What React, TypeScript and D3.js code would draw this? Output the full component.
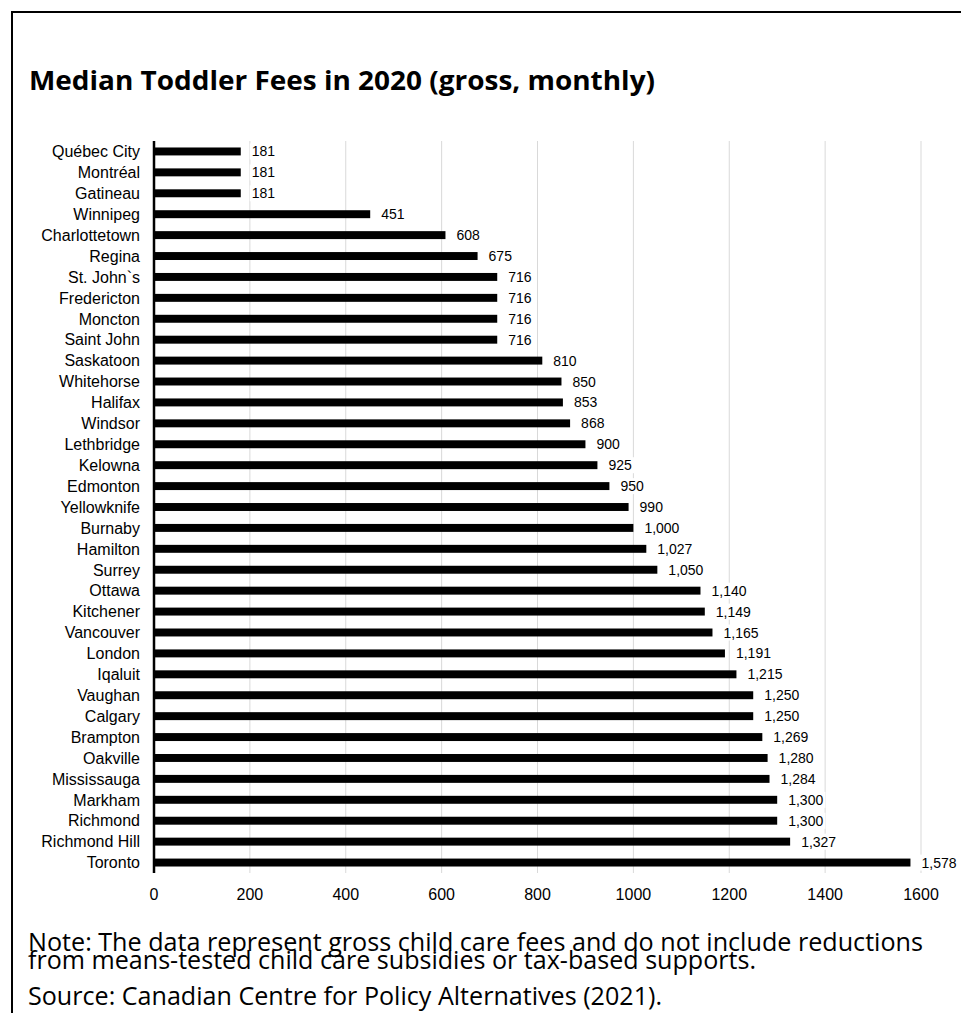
import React, { useEffect, useRef } from "react";
import * as d3 from "d3";

const cities = [
  "Québec City", "Montréal", "Gatineau", "Winnipeg", "Charlottetown", "Regina",
  "St. John`s", "Fredericton", "Moncton", "Saint John", "Saskatoon", "Whitehorse",
  "Halifax", "Windsor", "Lethbridge", "Kelowna", "Edmonton", "Yellowknife",
  "Burnaby", "Hamilton", "Surrey", "Ottawa", "Kitchener", "Vancouver", "London",
  "Iqaluit", "Vaughan", "Calgary", "Brampton", "Oakville", "Mississauga",
  "Markham", "Richmond", "Richmond Hill", "Toronto",
];
const fees = [
  181, 181, 181, 451, 608, 675, 716, 716, 716, 716, 810, 850, 853, 868, 900,
  925, 950, 990, 1000, 1027, 1050, 1140, 1149, 1165, 1191, 1215, 1250, 1250,
  1269, 1280, 1284, 1300, 1300, 1327, 1578,
];
const xTicks = [0, 200, 400, 600, 800, 1000, 1200, 1400, 1600];
const titleText = "Median Toddler Fees in 2020 (gross, monthly)";
const noteLines = [
  "Note: The data represent gross child care fees and do not include reductions",
  "from means-tested child care subsidies or tax-based supports.",
  "Source: Canadian Centre for Policy Alternatives (2021).",
];

const W = 961;
const H = 1013;
const ARIAL = "'Liberation Sans', Arial, sans-serif";
const SEGOE = "'Open Sans', 'Noto Sans', sans-serif";

export default function App() {
  const ref = useRef<SVGSVGElement | null>(null);

  useEffect(() => {
    const svg = d3.select(ref.current);
    svg.selectAll("*").remove();

    svg.append("rect").attr("width", W).attr("height", H).attr("fill", "#fff");

    // frame (top and left edges)
    svg.append("line").attr("x1", 12).attr("x2", W).attr("y1", 12).attr("y2", 12)
      .attr("stroke", "#000").attr("stroke-width", 2);
    svg.append("line").attr("x1", 12).attr("x2", 12).attr("y1", 11).attr("y2", H)
      .attr("stroke", "#000").attr("stroke-width", 2);

    // title
    svg.append("text").attr("x", 29).attr("y", 90)
      .attr("font-family", SEGOE).attr("font-weight", 700).attr("font-size", 27)
      .attr("textLength", 626).attr("lengthAdjust", "spacingAndGlyphs")
      .attr("fill", "#000").text(titleText);

    const x = d3.scaleLinear().domain([0, 1600]).range([154, 921]);
    const y = d3.scaleBand<string>().domain(cities).range([141, 873])
      .paddingInner(0.62).paddingOuter(0.31);

    // gridlines
    svg.append("g").selectAll("line").data(xTicks.slice(1)).join("line")
      .attr("x1", (d) => x(d)).attr("x2", (d) => x(d))
      .attr("y1", 141).attr("y2", 873)
      .attr("stroke", "#d9d9d9").attr("stroke-width", 1);

    // bars
    svg.append("g").selectAll("rect").data(fees).join("rect")
      .attr("x", x(0)).attr("y", (_, i) => y(cities[i]) as number)
      .attr("width", (d) => x(d) - x(0)).attr("height", y.bandwidth())
      .attr("fill", "#000");

    // value labels with white backgrounds
    const fmt = d3.format(",");
    const lg = svg.append("g");
    fees.forEach((v, i) => {
      const cy = (y(cities[i]) as number) + y.bandwidth() / 2;
      const g = lg.append("g");
      const bg = g.append("rect").attr("fill", "#fff");
      const t = g.append("text").attr("x", x(v) + 11).attr("y", cy).attr("dy", "0.36em")
        .attr("font-family", ARIAL).attr("font-size", 14).attr("fill", "#000")
        .text(fmt(v));
      const bb = (t.node() as SVGTextElement).getBBox();
      bg.attr("x", bb.x - 2).attr("y", bb.y).attr("width", bb.width + 4).attr("height", bb.height);
    });

    // category labels
    svg.append("g").selectAll("text").data(cities).join("text")
      .attr("x", 140).attr("y", (d) => (y(d) as number) + y.bandwidth() / 2)
      .attr("dy", "0.36em").attr("text-anchor", "end")
      .attr("font-family", ARIAL).attr("font-size", 16).attr("fill", "#000")
      .text((d) => d);

    // y axis line
    svg.append("line").attr("x1", x(0)).attr("x2", x(0)).attr("y1", 141).attr("y2", 873)
      .attr("stroke", "#000").attr("stroke-width", 2.5);

    // x tick labels
    svg.append("g").selectAll("text").data(xTicks).join("text")
      .attr("x", (d) => x(d)).attr("y", 900).attr("text-anchor", "middle")
      .attr("font-family", ARIAL).attr("font-size", 16).attr("fill", "#000")
      .text((d) => String(d));

    // notes
    const noteY = [951, 969, 1005];
    const noteLen = [895, 728, 634];
    noteLines.forEach((s, i) => {
      svg.append("text").attr("x", 28).attr("y", noteY[i])
        .attr("font-family", SEGOE).attr("font-weight", 400).attr("font-size", 25)
        .attr("textLength", noteLen[i]).attr("lengthAdjust", "spacingAndGlyphs")
        .attr("fill", "#000").text(s);
    });
  }, []);

  return (
    <svg ref={ref} width={W} height={H}
      style={{ position: "absolute", left: 0, top: 0, display: "block" }} />
  );
}
